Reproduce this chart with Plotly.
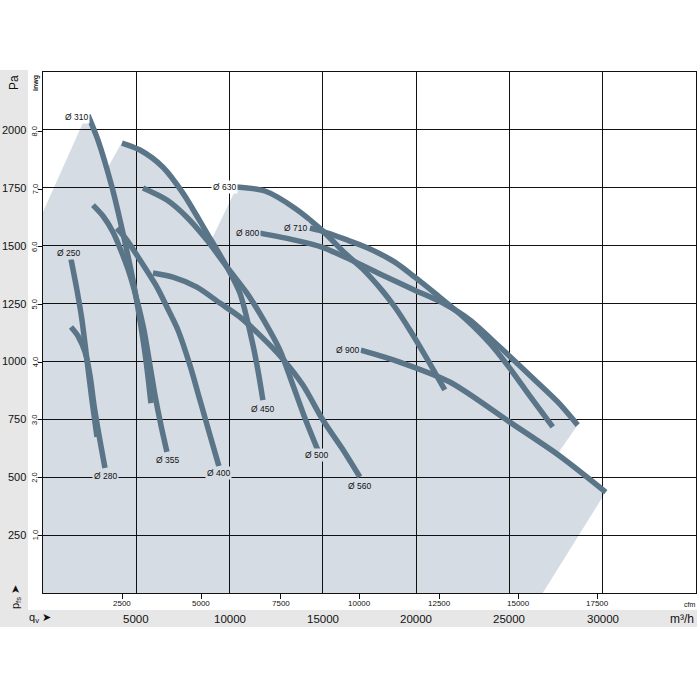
import plotly.graph_objects as go

W = H = 700

# ---------------- data ----------------
M3H_PER_CFM = 1.699
PA_PER_INWG = 249.09

q_ticks_m3h = [5000, 10000, 15000, 20000, 25000, 30000]
q_ticks_cfm = [2500, 5000, 7500, 10000, 12500, 15000, 17500]
pa_ticks = [250, 500, 750, 1000, 1250, 1500, 1750, 2000]
inwg_ticks = [1, 2, 3, 4, 5, 6, 7, 8]
inwg_labels = ["1,0", "2,0", "3,0", "4,0", "5,0", "6,0", "7,0", "8,0"]

# fan curves: flow (m3/h) and static pressure (Pa)
d250_q = [1500, 1821, 2089, 2357, 2625, 2893]
d250_p = [1442, 1308, 1179, 1006, 833, 674]

d280_q = [1500, 1875, 2250, 2518, 2732, 3000, 3321]
d280_p = [1149, 1110, 1041, 941, 812, 682, 540]

d310_q = [2411, 2946, 3696, 4286, 4821, 5196, 5518, 5786]
d310_p = [2064, 1956, 1753, 1554, 1351, 1179, 1006, 820]

d355_q = [2679, 3214, 3750, 4232, 4661, 5036, 5411, 5732, 6000, 6321, 6643]
d355_p = [1675, 1628, 1559, 1468, 1373, 1265, 1136, 984, 855, 725, 609]

d400_q = [3964, 4500, 5196, 6107, 6643, 7232, 7875, 8411, 8946, 9429]
d400_p = [1576, 1524, 1438, 1321, 1235, 1136, 984, 833, 682, 548]

d450_q = [4232, 5196, 6429, 7500, 8786, 9857, 10554, 11196, 11518, 11786]
d450_p = [1943, 1913, 1839, 1727, 1554, 1408, 1295, 1092, 963, 833]

d500_q = [5357, 6643, 7714, 8786, 9857, 10929, 11893, 12696, 13393, 14036, 14732]
d500_p = [1749, 1697, 1623, 1524, 1408, 1295, 1170, 1049, 898, 756, 617]

d560_q = [5893, 6964, 8250, 9482, 10554, 11732, 12804, 13929, 15000, 16018, 16982]
d560_p = [1382, 1364, 1321, 1252, 1192, 1105, 1015, 898, 747, 626, 501]

d630_q = [10393, 11893, 13500, 14946, 16179, 17089, 18161, 18857, 19661, 20625, 21536]
d630_p = [1753, 1736, 1662, 1567, 1468, 1403, 1308, 1235, 1136, 1006, 877]

d710_q = [14304, 14946, 16179, 17411, 18857, 19929, 21000, 22607, 23946, 25018, 26089, 27321]
d710_p = [1576, 1563, 1528, 1490, 1429, 1364, 1295, 1187, 1079, 971, 851, 717]

d800_q = [11625, 13500, 14946, 16179, 17946, 19929, 21536, 22875, 24482, 26357, 27589, 28661]
d800_p = [1554, 1524, 1494, 1451, 1382, 1308, 1248, 1179, 1062, 920, 825, 725]

d900_q = [17036, 19125, 21804, 25018, 27696, 30161]
d900_p = [1049, 997, 911, 738, 592, 436]

# operating range envelope (shaded area)
env_q = [0, 0, 2304, 3482, 4232, 5196, 6429, 7500, 8411, 8893, 10393, 11893, 13500,
         14946, 16179, 17411, 18857, 19929, 21000, 22300, 24482, 26357, 27589, 28661,
         27536, 30161, 26786]
env_p = [0, 1645, 2060, 1839, 1947, 1913, 1839, 1727, 1576, 1503, 1753, 1736, 1662,
         1567, 1528, 1490, 1429, 1364, 1295, 1200, 1062, 920, 825, 725,
         596, 436, 0]

label_text = ["Ø 250", "Ø 280", "Ø 310", "Ø 355", "Ø 400", "Ø 450", "Ø 500",
              "Ø 560", "Ø 630", "Ø 710", "Ø 800", "Ø 900"]
label_q = [1366, 3375, 1821, 6696, 9429, 11786, 14652, 16982, 9750, 13554, 10955, 16339]
label_p = [1468, 505, 2055, 574, 518, 794, 596, 462, 1753, 1576, 1554, 1049]
label_bg = ["#d6dce4", "#d6dce4", "#ffffff", "#d6dce4", "#d6dce4", "#d6dce4", "#d6dce4",
            "#d6dce4", "#ffffff", "#d6dce4", "#d6dce4", "#d6dce4"]

# ---------------- figure ----------------
FONT = "Liberation Sans Narrow, Arial Narrow, Liberation Sans, Arial, sans-serif"
LINE = "#5b7588"
FILL = "#d6dce4"
STRIP = "#e7e7e7"
INK = "#111111"

X0, X1 = 43 / 700, 696 / 700
Y0, Y1 = (700 - 593) / 700, (700 - 72) / 700
QMAX, PMAX = 35000, 2250


def px(v):
    """pixel offset from top-left -> paper fraction (x)"""
    return v / 700


def py(v):
    """pixel offset from top -> paper fraction (y)"""
    return (700 - v) / 700


fig = go.Figure()

curves = [(d250_q, d250_p), (d280_q, d280_p), (d310_q, d310_p), (d355_q, d355_p),
          (d400_q, d400_p), (d450_q, d450_p), (d500_q, d500_p), (d560_q, d560_p),
          (d630_q, d630_p), (d710_q, d710_p), (d800_q, d800_p), (d900_q, d900_p)]
for q, p in curves:
    fig.add_trace(go.Scatter(x=q, y=p, mode="lines",
                             line=dict(color=LINE, width=5.5, shape="spline", smoothing=0.8),
                             hoverinfo="skip", showlegend=False))

# invisible traces so that the secondary (cfm / in wg) axes are drawn
fig.add_trace(go.Scatter(x=[q_ticks_cfm[0]], y=[pa_ticks[0]], xaxis="x2", yaxis="y",
                         mode="markers", marker=dict(opacity=0), hoverinfo="skip",
                         showlegend=False))
fig.add_trace(go.Scatter(x=[q_ticks_m3h[0]], y=[inwg_ticks[0]], xaxis="x", yaxis="y2",
                         mode="markers", marker=dict(opacity=0), hoverinfo="skip",
                         showlegend=False))

# envelope as a shape under the gridlines
path = "M " + " L ".join(f"{q},{p}" for q, p in zip(env_q, env_p)) + " Z"
shapes = [dict(type="path", path=path, xref="x", yref="y", fillcolor=FILL,
               line=dict(width=0), layer="below")]
# grey strips
shapes.append(dict(type="rect", xref="paper", yref="paper", x0=0, x1=px(28),
                   y0=py(627), y1=py(70), fillcolor=STRIP,
                   line=dict(width=0), layer="below"))
shapes.append(dict(type="rect", xref="paper", yref="paper", x0=0, x1=px(697),
                   y0=py(627), y1=py(610), fillcolor=STRIP,
                   line=dict(width=0), layer="below"))

C = dict(xanchor="center", yanchor="middle", showarrow=False)
ann = []
for t, q, p, bg in zip(label_text, label_q, label_p, label_bg):
    ann.append(dict(x=q, y=p, xref="x", yref="y", text=t, bgcolor=bg, borderpad=1,
                    font=dict(family=FONT, size=8.5, color=INK), **C))
# Pa tick labels
for p in pa_ticks:
    ann.append(dict(x=px(27.5), y=p, xref="paper", yref="y", text=str(p),
                    showarrow=False, xanchor="right", yanchor="middle",
                    font=dict(family=FONT, size=11, color=INK)))
# in wg tick labels
for v, t in zip(inwg_ticks, inwg_labels):
    ann.append(dict(x=px(35), y=v, xref="paper", yref="y2", text=t, textangle=-90,
                    font=dict(family=FONT, size=7.5, color=INK), **C))
# cfm tick labels
for v in q_ticks_cfm:
    ann.append(dict(x=v, y=py(603), xref="x2", yref="paper", text=str(v),
                    font=dict(family=FONT, size=8, color=INK), **C))
# m3/h labels
for q in q_ticks_m3h:
    ann.append(dict(x=q, y=py(618.5), xref="x", yref="paper", text=str(q),
                    font=dict(family=FONT, size=11.5, color=INK), **C))
ann += [
    dict(x=px(14), y=py(83), xref="paper", yref="paper", text="Pa", textangle=-90,
         font=dict(family=FONT, size=12, color=INK), **C),
    dict(x=px(36), y=py(83), xref="paper", yref="paper", text="<b>inwg</b>",
         textangle=-90, font=dict(family=FONT, size=7, color=INK), **C),
    dict(x=px(696), y=py(618.5), xref="paper", yref="paper", text="m³/h",
         showarrow=False, xanchor="right", yanchor="middle",
         font=dict(family=FONT, size=12, color=INK)),
    dict(x=px(697), y=py(604), xref="paper", yref="paper", text="cfm",
         showarrow=False, xanchor="right", yanchor="middle",
         font=dict(family=FONT, size=7, color=INK)),
    dict(x=px(40), y=py(617.5), xref="paper", yref="paper", text="q<sub>v</sub> ➤",
         font=dict(family=FONT, size=11, color=INK), **C),
    dict(x=px(16), y=py(597), xref="paper", yref="paper", text="p<sub>fs</sub> ➤",
         textangle=-90, font=dict(family=FONT, size=11, color=INK), **C),
]

fig.update_layout(
    width=W, height=H, margin=dict(l=0, r=0, t=0, b=0),
    paper_bgcolor="white", plot_bgcolor="white",
    shapes=shapes, annotations=ann, showlegend=False,
    xaxis=dict(domain=[X0, X1], range=[0, QMAX], dtick=5000, tick0=0,
               showgrid=True, gridcolor=INK, gridwidth=1.2, zeroline=False,
               showticklabels=False, ticks="", showline=True, linecolor=INK,
               linewidth=1.2, mirror=True, fixedrange=True),
    yaxis=dict(domain=[Y0, Y1], range=[0, PMAX], dtick=250, tick0=0,
               showgrid=True, gridcolor=INK, gridwidth=1.2, zeroline=False,
               showticklabels=False, ticks="", showline=True, linecolor=INK,
               linewidth=1.2, mirror=True, fixedrange=True),
    xaxis2=dict(overlaying="x", anchor="y", side="bottom",
                range=[0, QMAX / M3H_PER_CFM], tickvals=q_ticks_cfm,
                ticks="outside", ticklen=5, tickwidth=1, tickcolor=INK,
                showticklabels=False, showgrid=False, zeroline=False, showline=False,
                fixedrange=True),
    yaxis2=dict(overlaying="y", anchor="free", position=X0, side="left",
                range=[0, PMAX / PA_PER_INWG], tickvals=inwg_ticks, ticks="outside",
                ticklen=5, tickwidth=1, tickcolor=INK, showticklabels=False,
                showgrid=False, zeroline=False, showline=False, fixedrange=True),
)

fig.write_html("out.html")
